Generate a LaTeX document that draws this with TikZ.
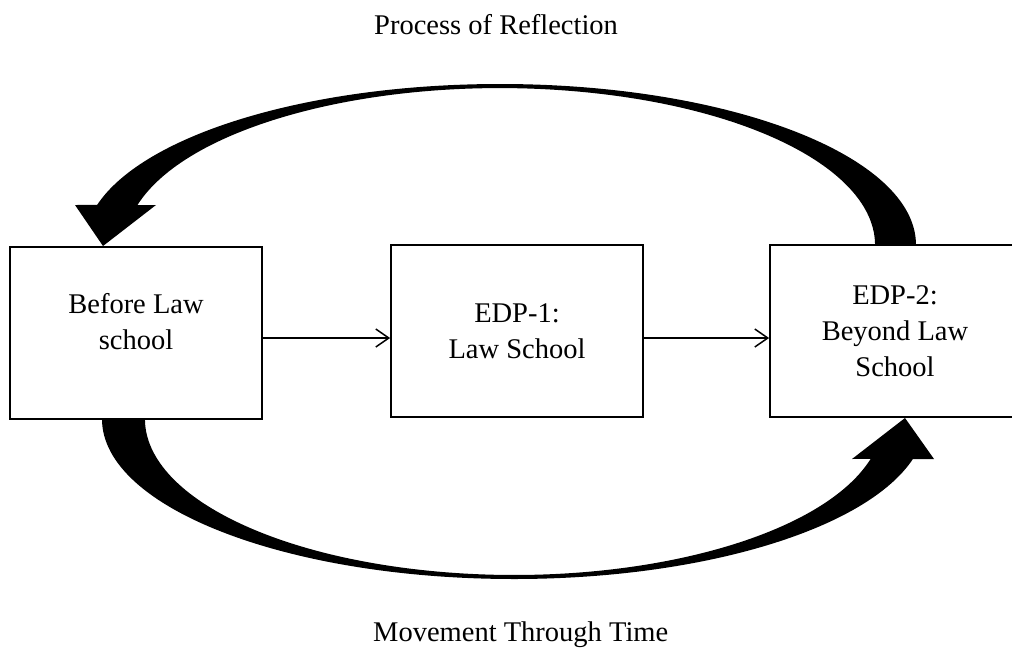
\documentclass[tikz,border=0pt]{standalone}
\usepackage{fontspec}
\setmainfont{Liberation Serif}
\usetikzlibrary{arrows.meta}
\begin{document}
\begin{tikzpicture}[x=1pt,y=-1pt,
  box/.style={draw=black, line width=1.8pt, minimum width=252pt, minimum height=172pt, inner sep=0pt, fill=white},
  lbl/.style={font=\fontsize{28.5}{36}\selectfont, align=center, anchor=base, inner sep=0pt},
  title/.style={font=\fontsize{28.5}{36}\selectfont, anchor=base west, inner sep=0pt},
  flow/.style={line width=1.5pt, -{Straight Barb[length=13pt,width=18pt,line width=1.5pt]}},
  bigarrow/.style={fill=black, draw=none}]
\useasboundingbox (0,0) rectangle (1012,648);
% big curved arrows
\fill[bigarrow] (916,245) arc[start angle=0, end angle=-165.6, x radius=416, y radius=161]
  -- (75,205) -- (103,246) -- (156,205) -- (137.5,205)
  arc[start angle=-165.2, end angle=0, x radius=375, y radius=157] -- cycle;
\fill[bigarrow] (102,419) arc[start angle=180, end angle=14.5, x radius=412, y radius=160]
  -- (934,459) -- (905,418) -- (852,459) -- (870.7,458.8)
  arc[start angle=14.8, end angle=180, x radius=369, y radius=156] -- cycle;
% boxes
\node[box] (b1) at (136,333) {};
\node[box] (b2) at (517,331) {};
\node[box, minimum width=250pt] (b3) at (895,331) {};
\node[lbl] (t1) at (136,349) {Before Law\\school};
\node[lbl] (t2) at (517,358) {EDP-1:\\Law School};
\node[lbl] (t3) at (895,376) {EDP-2:\\Beyond Law\\School};
\node[title] (top) at (374,34) {Process of Reflection};
\node[title] (bot) at (373,641) {Movement Through Time};
% straight arrows
\draw[flow] ([yshift=-5pt]b1.east) -- ([yshift=-7pt]b2.west);
\draw[flow] ([yshift=-7pt]b2.east) -- ([yshift=-7pt]b3.west);
\end{tikzpicture}
\end{document}
